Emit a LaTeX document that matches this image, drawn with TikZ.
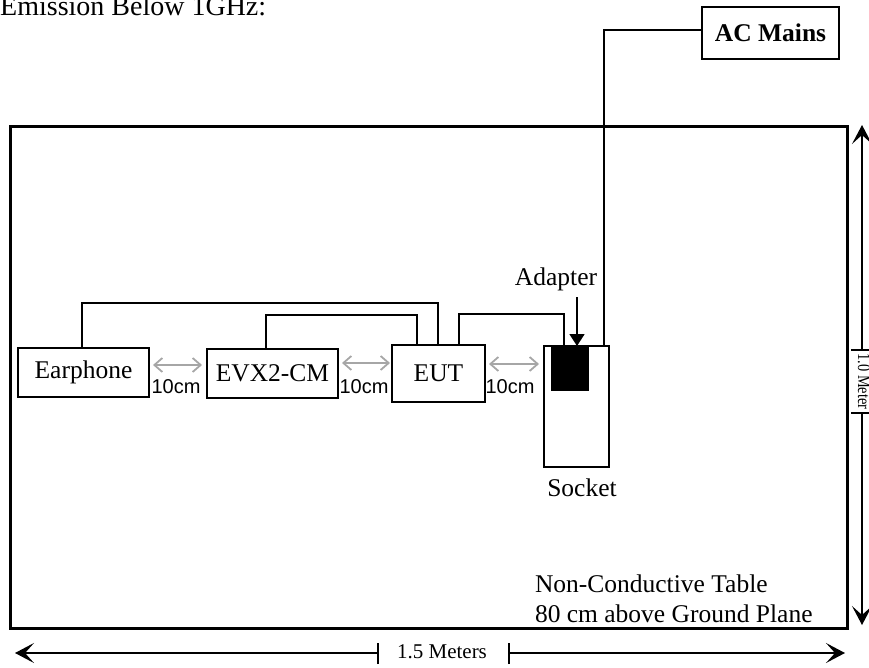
\documentclass[tikz,border=0pt]{standalone}
\usepackage{fontspec}
\setmainfont{Liberation Serif}
\newfontfamily\arialf{Liberation Sans}
\usetikzlibrary{arrows.meta}
\begin{document}
\begin{tikzpicture}[x=1pt,y=-1pt,
  lbl/.style={font=\fontsize{25.5}{30}\selectfont, inner sep=0pt, outer sep=0pt},
  box/.style={draw, line width=1.7pt, inner sep=0pt, outer sep=0pt},
  wire/.style={line width=1.7pt},
  gap/.style={draw=gray!70, line width=1.8pt, {Straight Barb[length=8pt,width=14pt]}-{Straight Barb[length=8pt,width=14pt]}},
  distlbl/.style={font=\arialf\fontsize{20}{22}\selectfont, inner sep=0pt},
  dim/.style={line width=1.5pt},
  dimhead/.style={-{Stealth[length=19pt,width=20pt,inset=9pt]}},
]
\useasboundingbox (0,0) rectangle (869,668);

% title
\node[anchor=base west, font=\fontsize{28}{30}\selectfont, inner sep=0pt] (title) at (0,16) {Emission Below 1GHz:};

% table
\node[box, line width=3pt, minimum width=837pt, minimum height=501pt] (table) at (428.5,377.5) {};

% boxes
\node[box, font=\bfseries\fontsize{25.5}{30}\selectfont, minimum width=137pt, minimum height=52pt] (ac) at (770.5,33) {AC Mains};
\node[box, lbl, minimum width=131pt, minimum height=49pt] (ear) at (83.5,372.5) {Earphone\hspace{10pt}};
\node[box, lbl, minimum width=131pt, minimum height=49pt] (evx) at (272.5,373.5) {EVX2-CM};
\node[box, lbl, minimum width=93pt, minimum height=57pt] (eut) at (438.5,373.5) {\raisebox{-3pt}{EUT}};
\node[box, minimum width=65pt, minimum height=121pt] (socket) at (576.5,406.5) {};
\node[fill=black, draw=black, line width=1pt, inner sep=0pt, outer sep=0pt, minimum width=37pt, minimum height=44pt] (adapter) at (569.5,368) {};
\node[lbl, anchor=base] (socketlbl) at (582,496) {Socket};
\node[lbl, anchor=base] (adapterlbl) at (556,285) {Adapter};

% adapter arrow
\coordinate (adtop) at (577,297);
\draw[line width=1.7pt, -{Triangle[length=12pt,width=15pt]}] (adtop) -- (adapter.north -| adtop);

% AC mains wire
\coordinate (acturn) at (604,30);
\draw[wire] (ac.west |- acturn) -- (acturn) -- (socket.north -| acturn);

% cables
\coordinate (w1a) at (82,303); \coordinate (w1b) at (438,303);
\draw[wire] (ear.north -| w1a) -- (w1a) -- (w1b) -- (eut.north -| w1b);
\coordinate (w2a) at (266,315); \coordinate (w2b) at (417,315);
\draw[wire] (evx.north -| w2a) -- (w2a) -- (w2b) -- (eut.north -| w2b);
\coordinate (w3a) at (459,314); \coordinate (w3b) at (564,314);
\draw[wire] (eut.north -| w3a) -- (w3a) -- (w3b) -- (adapter.north -| w3b);

% spacing arrows
\coordinate (g1) at (0,365);
\coordinate (g2) at (0,363);
\coordinate (g3) at (0,364);
\draw[gap, shorten <=4pt, shorten >=5pt] (ear.east |- g1) -- (evx.west |- g1);
\draw[gap, shorten <=4pt, shorten >=2pt] (evx.east |- g2) -- (eut.west |- g2);
\draw[gap, shorten <=4pt, shorten >=5pt] (eut.east |- g3) -- (socket.west |- g3);
\node[distlbl, anchor=base] (d1) at (176,393) {10cm};
\node[distlbl, anchor=base] (d2) at (364,393) {10cm};
\node[distlbl, anchor=base] (d3) at (510,393) {10cm};

% table text
\node[lbl, anchor=base west] (tt1) at (535,592) {Non-Conductive Table};
\node[lbl, anchor=base west] (tt2) at (535,622) {80 cm above Ground Plane};

% vertical dimension
\coordinate (vt) at (862,125); \coordinate (vb) at (862,625);
\coordinate (vm1) at (862,350); \coordinate (vm2) at (862,413);
\draw[dim, dimhead] (vm1) -- (vt);
\draw[dim, dimhead] (vm2) -- (vb);
\draw[dim] ([xshift=-11pt]vm1) -- ([xshift=10pt]vm1);
\draw[dim] ([xshift=-11pt]vm2) -- ([xshift=10pt]vm2);
\node[font=\fontsize{18}{20}\selectfont, rotate=-90, anchor=base, inner sep=0pt] (vlab) at (858,381.5) {\scalebox{0.8}[1]{1.0 Meter}};

% horizontal dimension
\coordinate (hl) at (15,653); \coordinate (hr) at (845,653);
\coordinate (hm1) at (378,653); \coordinate (hm2) at (509,653);
\draw[dim, dimhead] (hm1) -- (hl);
\draw[dim, dimhead] (hm2) -- (hr);
\draw[dim] ([yshift=-11pt]hm1) -- ([yshift=10pt]hm1);
\draw[dim] ([yshift=-11pt]hm2) -- ([yshift=10pt]hm2);
\node[font=\fontsize{21}{24}\selectfont, inner sep=0pt] (hlab) at (442,652) {1.5 Meters};
\end{tikzpicture}
\end{document}
